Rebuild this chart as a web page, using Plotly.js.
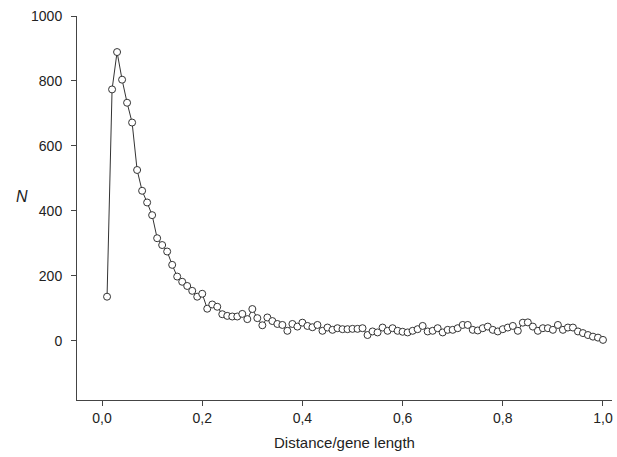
<!DOCTYPE html>
<html>
<head>
<meta charset="utf-8">
<script src="https://cdn.plot.ly/plotly-3.0.1.min.js"></script>
<style>html,body{margin:0;padding:0;background:#fff;}#chart{width:617px;height:457px;}</style>
</head>
<body>
<div id="chart"></div>
<script>
// Relative distance (distance / gene length) bins
const distance = [
  0.01,0.02,0.03,0.04,0.05,0.06,0.07,0.08,0.09,0.10,
  0.11,0.12,0.13,0.14,0.15,0.16,0.17,0.18,0.19,0.20,
  0.21,0.22,0.23,0.24,0.25,0.26,0.27,0.28,0.29,0.30,
  0.31,0.32,0.33,0.34,0.35,0.36,0.37,0.38,0.39,0.40,
  0.41,0.42,0.43,0.44,0.45,0.46,0.47,0.48,0.49,0.50,
  0.51,0.52,0.53,0.54,0.55,0.56,0.57,0.58,0.59,0.60,
  0.61,0.62,0.63,0.64,0.65,0.66,0.67,0.68,0.69,0.70,
  0.71,0.72,0.73,0.74,0.75,0.76,0.77,0.78,0.79,0.80,
  0.81,0.82,0.83,0.84,0.85,0.86,0.87,0.88,0.89,0.90,
  0.91,0.92,0.93,0.94,0.95,0.96,0.97,0.98,0.99,1.00
];
// Counts N per bin
const countN = [
  136,774,889,804,733,672,526,462,426,387,
  316,295,275,234,198,182,169,154,136,145,
  99,112,105,82,77,75,75,83,67,98,
  70,48,72,61,52,49,31,52,44,56,
  46,42,49,31,41,34,39,36,36,37,
  37,39,18,29,26,41,31,39,31,28,
  26,31,36,46,29,31,39,26,34,34,
  39,49,49,34,32,39,44,34,29,36,
  41,46,31,56,57,44,31,39,39,34,
  49,34,41,41,29,24,18,13,10,3
];
const xTicks = [0,0.2,0.4,0.6,0.8,1.0];
const yTicks = [0,200,400,600,800,1000];

const trace = {
  x: distance, y: countN, type: 'scatter', mode: 'lines+markers',
  line: {color: '#333', width: 1},
  marker: {symbol: 'circle', size: 7, color: '#fff', line: {color: '#333', width: 1}},
  hoverinfo: 'skip'
};

const layout = {
  width: 617, height: 457,
  margin: {l: 77, r: 5, t: 16, b: 57},
  paper_bgcolor: '#fff', plot_bgcolor: '#fff',
  separators: ', ',
  showlegend: false,
  font: {family: 'Liberation Sans, Arial, sans-serif', size: 14, color: '#222'},
  xaxis: {
    range: [-0.05, 1.018], tickvals: xTicks, tickformat: '.1f',
    showgrid: false, zeroline: false, showline: true, linecolor: '#444', linewidth: 1,
    ticks: 'outside', ticklen: 5, tickcolor: '#444', tickwidth: 1,
    title: {text: 'Distance/gene length', font: {size: 15, color: '#222'}, standoff: 12}
  },
  yaxis: {
    range: [-182, 1000], tickvals: yTicks,
    showgrid: false, zeroline: false, showline: true, linecolor: '#444', linewidth: 1,
    ticks: 'outside', ticklen: 5, tickcolor: '#444', tickwidth: 1,
    ticklabelstandoff: 6
  },
  annotations: [{
    text: '<i>N</i>', xref: 'paper', yref: 'paper', x: -0.103, y: 0.53,
    xanchor: 'center', yanchor: 'middle',
    showarrow: false, font: {size: 16, color: '#222'}
  }]
};

Plotly.newPlot('chart', [trace], layout, {staticPlot: true, displayModeBar: false});
</script>
</body>
</html>
